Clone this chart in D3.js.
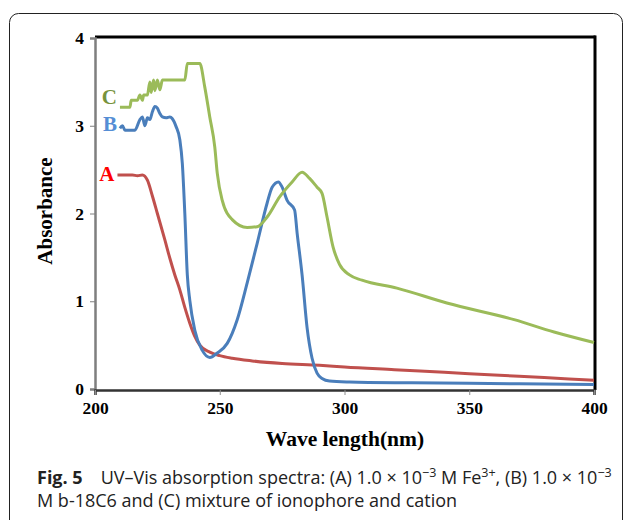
<!DOCTYPE html>
<html lang="en">
<head>
    <title>UV-Vis absorption spectra</title>
    <script src="https://d3js.org/d3.v7.min.js"></script>
    <style>
        body { margin: 0; background: #fff; }
    </style>
</head>
<body>
<script>
    // Data (wavelength in nm, absorbance)
    const wlA  = [209, 215, 217, 219, 221, 223, 225, 228, 230, 232, 234, 236, 238, 240, 242, 246, 250, 255, 263, 275, 290, 300, 320, 340, 360, 380, 400];
    const absA = [2.44, 2.44, 2.43, 2.44, 2.38, 2.2, 2.0, 1.7, 1.49, 1.3, 1.13, 0.93, 0.75, 0.6, 0.5, 0.42, 0.38, 0.35, 0.32, 0.29, 0.27, 0.25, 0.22, 0.19, 0.16, 0.13, 0.10];

    const wlB  = [210, 211, 212, 214, 216, 218, 219, 220, 221, 222, 223, 224, 225, 226, 227, 228.5, 230, 231, 232.5, 234, 235, 236, 237, 238, 240, 243, 246, 249, 253, 257, 261, 265, 269, 271, 273.5, 275, 277, 280, 281, 283, 285, 287, 289, 291, 294, 302, 327, 370, 400];
    const absB = [2.97, 3.0, 2.95, 2.95, 2.95, 3.07, 3.1, 3.0, 3.09, 3.07, 3.16, 3.22, 3.2, 3.14, 3.1, 3.09, 3.1, 3.08, 2.99, 2.84, 2.57, 2.0, 1.3, 1.01, 0.67, 0.44, 0.36, 0.41, 0.52, 0.79, 1.21, 1.66, 2.12, 2.3, 2.36, 2.3, 2.15, 2.04, 1.78, 1.3, 0.7, 0.35, 0.18, 0.12, 0.09, 0.08, 0.07, 0.06, 0.05];

    const wlC  = [210, 214, 214.5, 217, 218, 219, 219.5, 221, 222, 222.5, 223.5, 224, 225, 226, 227, 236, 237, 242, 244, 246, 248, 249, 251, 255, 261, 265, 269, 274, 279, 283, 286, 289, 291, 293, 295.4, 298, 302, 307, 321, 341, 368, 384, 400];
    const absC = [3.21, 3.21, 3.29, 3.29, 3.35, 3.29, 3.35, 3.35, 3.5, 3.38, 3.52, 3.4, 3.52, 3.41, 3.52, 3.52, 3.71, 3.71, 3.44, 3.1, 2.76, 2.46, 2.15, 1.93, 1.84, 1.85, 1.96, 2.19, 2.36, 2.47, 2.40, 2.30, 2.23, 1.96, 1.62, 1.42, 1.30, 1.24, 1.15, 0.98, 0.79, 0.65, 0.53];

    const seriesNames = ["A", "B", "C"];
    const xTicks = [200, 250, 300, 350, 400];
    const yTicks = [0, 1, 2, 3, 4];

    const series = [
        { name: seriesNames[0], wl: wlA, abs: absA, labelAt: 2.45, stroke: "#C0504D", labelColor: "#FF0000" },
        { name: seriesNames[1], wl: wlB, abs: absB, labelAt: 3.02, stroke: "#4A7EBB", labelColor: "#558ED5" },
        { name: seriesNames[2], wl: wlC, abs: absC, labelAt: 3.33, stroke: "#9BBB59", labelColor: "#77933C" }
    ];

    const W = 629, H = 520;
    const plotLeft = 95, plotRight = 594, plotTop = 38, plotBottom = 389;
    const serif = "'Liberation Serif', 'Times New Roman', serif";

    const svg = d3.select("body").append("svg")
        .attr("width", W).attr("height", H);

    // outer frame of the figure
    svg.append("rect")
        .attr("x", 9.5).attr("y", 13.5)
        .attr("width", 613).attr("height", 540)
        .attr("rx", 9)
        .attr("fill", "none").attr("stroke", "#222").attr("stroke-width", 1);

    const x = d3.scaleLinear().domain([200, 400]).range([plotLeft, plotRight]);
    const y = d3.scaleLinear().domain([0, 4]).range([plotBottom, plotTop]);

    // top and right borders of the plot
    svg.append("line")
        .attr("x1", plotLeft).attr("x2", plotRight + 1.5)
        .attr("y1", plotTop - 1).attr("y2", plotTop - 1)
        .attr("stroke", "#000").attr("stroke-width", 3);
    svg.append("line")
        .attr("x1", plotRight + 1).attr("x2", plotRight + 1)
        .attr("y1", plotTop - 2.5).attr("y2", plotBottom + 1)
        .attr("stroke", "#000").attr("stroke-width", 3);

    // y axis
    const yAxis = svg.append("g")
        .attr("transform", `translate(${plotLeft},0)`)
        .call(d3.axisLeft(y).tickValues(yTicks).tickSize(5).tickFormat(d3.format("d")));
    yAxis.select(".domain").attr("stroke", "#7f7f7f").attr("stroke-width", 2.5);
    yAxis.selectAll(".tick line").attr("stroke", "#7f7f7f");
    yAxis.selectAll(".tick text")
        .attr("x", -11)
        .attr("font-family", serif)
        .attr("font-weight", "bold").attr("font-size", 17.5).attr("fill", "#000");

    // x axis
    const xAxis = svg.append("g")
        .attr("transform", `translate(0,${plotBottom + 1})`)
        .call(d3.axisBottom(x).tickValues(xTicks).tickSize(5).tickFormat(d3.format("d")));
    xAxis.select(".domain").attr("stroke", "#333").attr("stroke-width", 2.5);
    xAxis.selectAll(".tick line").attr("stroke", "#8c8c8c");
    xAxis.selectAll(".tick text")
        .attr("y", 12)
        .attr("font-family", serif)
        .attr("font-weight", "bold").attr("font-size", 17.5).attr("fill", "#000");

    // curves
    const line = d3.line()
        .x(d => x(d[0]))
        .y(d => y(d[1]))
        .curve(d3.curveMonotoneX);

    series.forEach(s => {
        const pts = s.wl.map((w, i) => [w, s.abs[i]]);
        svg.append("path")
            .datum(pts)
            .attr("fill", "none")
            .attr("stroke", s.stroke)
            .attr("stroke-width", 3)
            .attr("stroke-linejoin", "round")
            .attr("d", line);

        // series letter left of the curve start
        svg.append("text")
            .attr("x", x(s.wl[0]) - 3)
            .attr("y", y(s.labelAt))
            .attr("dy", "0.35em")
            .attr("text-anchor", "end")
            .attr("font-family", serif)
            .attr("font-weight", "bold").attr("font-size", 21)
            .attr("fill", s.labelColor)
            .text(s.name);
    });

    // axis titles
    svg.append("text")
        .attr("x", 345).attr("y", 446)
        .attr("text-anchor", "middle")
        .attr("font-family", serif)
        .attr("font-weight", "bold").attr("font-size", 21.5)
        .text("Wave length(nm)");

    svg.append("text")
        .attr("transform", "translate(52,211) rotate(-90)")
        .attr("text-anchor", "middle")
        .attr("font-family", serif)
        .attr("font-weight", "bold").attr("font-size", 21)
        .text("Absorbance");

    // caption
    const cap = svg.append("g")
        .attr("font-family", "'Open Sans', 'Noto Sans', sans-serif")
        .attr("font-size", 18).attr("fill", "#222");

    const l1 = cap.append("text").attr("x", 37).attr("y", 484);
    l1.append("tspan").attr("font-weight", "bold").text("Fig. 5");
    l1.append("tspan").text("\u2003UV\u2013Vis absorption spectra: (A) 1.0 \u00d7 10");
    l1.append("tspan").attr("dy", -7).attr("font-size", 12.5).text("\u22123");
    l1.append("tspan").attr("dy", 7).text(" M Fe");
    l1.append("tspan").attr("dy", -7).attr("font-size", 12.5).text("3+");
    l1.append("tspan").attr("dy", 7).text(", (B) 1.0 \u00d7 10");
    l1.append("tspan").attr("dy", -7).attr("font-size", 12.5).text("\u22123");

    cap.append("text").attr("x", 37).attr("y", 507)
        .text("M b-18C6 and (C) mixture of ionophore and cation");
</script>
</body>
</html>
